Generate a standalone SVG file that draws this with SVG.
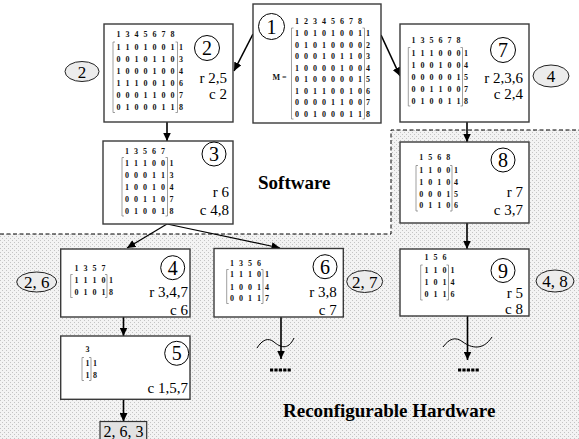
<svg xmlns="http://www.w3.org/2000/svg" width="579" height="439" viewBox="0 0 579 439">
<defs>
<pattern id="dots" width="4" height="4" patternUnits="userSpaceOnUse">
<rect width="4" height="4" fill="#f3f3f3"/>
<rect x="0" y="0" width="1" height="1" fill="#c4c4c4"/>
<rect x="2" y="2" width="1" height="1" fill="#c4c4c4"/>
</pattern>
<marker id="ah" markerUnits="userSpaceOnUse" markerWidth="9" markerHeight="8" refX="8.5" refY="4" orient="auto">
<path d="M0,0 L8.5,4 L0,8 z" fill="#000"/>
</marker>
</defs>
<style>
.box{fill:#fff;stroke:#3a3a3a;stroke-width:1.4}
.m{font-family:"Liberation Serif",serif;font-weight:bold;font-size:8px;letter-spacing:1.5px;fill:#111}
.lb{font-family:"Liberation Serif",serif;font-weight:bold;font-size:8px;fill:#111}
.br{fill:none;stroke:#777;stroke-width:0.7}
.cn{fill:none;stroke:#000;stroke-width:1}
.num{font-family:"Liberation Serif",serif;font-size:20px;text-anchor:middle;fill:#000}
.rc{font-family:"Liberation Serif",serif;font-size:15px;text-anchor:end;fill:#000}
.el{fill:#ececec;stroke:#222;stroke-width:1}
.et{font-family:"Liberation Serif",serif;font-size:17px;text-anchor:middle;fill:#000}
.big{font-family:"Liberation Serif",serif;font-weight:bold;font-size:19px;fill:#000}
.arr{fill:none;stroke:#000;stroke-width:1.6;marker-end:url(#ah)}
.dash{fill:none;stroke:#000;stroke-width:1;stroke-dasharray:4,2.5}
.dots{fill:none;stroke:#000;stroke-width:3;stroke-dasharray:3.2,1.2}
.wave{fill:none;stroke:#000;stroke-width:1}
</style>
<rect width="579" height="439" fill="#fff"/>
<path d="M0,234 H391 V130 H579 V439 H0 Z" fill="url(#dots)"/>
<path class="dash" d="M0,234 H391 V130 H579"/>

<text class="big" x="258" y="189">Software</text>
<text class="big" x="283" y="417">Reconfigurable Hardware</text>

<g id="connectors">
<line class="arr" x1="253" y1="34" x2="234" y2="71"/>
<line class="arr" x1="381" y1="35" x2="400" y2="76"/>
<line class="arr" x1="167" y1="122" x2="167" y2="141"/>
<line class="arr" x1="167" y1="224" x2="127" y2="248" style="stroke-width:1.2"/>
<line class="arr" x1="167" y1="224" x2="280" y2="248" style="stroke-width:1.2"/>
<line class="arr" x1="467" y1="122" x2="467" y2="142"/>
<line class="arr" x1="467" y1="223" x2="467" y2="249"/>
<line class="arr" x1="123.5" y1="317" x2="123.5" y2="336"/>
<line class="arr" x1="123.5" y1="399" x2="123.5" y2="421.5"/>
<line class="arr" x1="281" y1="317" x2="281" y2="359"/>
<path class="wave" d="M257,348 C262,340 268,337 274,342 S288,351 294,338"/>
<line class="dots" x1="270" y1="370" x2="291.5" y2="370"/>
<line class="arr" x1="467.5" y1="316" x2="467.5" y2="360"/>
<path class="wave" d="M443,347 C449,339 455,336 463,342 S483,351 492,337"/>
<line class="dots" x1="458" y1="370" x2="479.5" y2="370"/>
</g>

<g id="node1">
<rect class="box" x="253" y="4" width="128" height="119"/>
<circle class="cn" cx="271.5" cy="26.5" r="13"/>
<text class="num" x="271.5" y="33.5">1</text>
<text class="lb" x="272.5" y="80">M =</text>
<text class="m" x="295" y="23.5">1 2 3 4 5 6 7 8</text>
<path class="br" d="M293.5,28 H291.5 V119 H293.5 M362.5,28 H364.5 V119 H362.5"/>
<text class="m"><tspan x="295" y="36">1 0 1 0 1 0 0 1</tspan><tspan x="295" y="47.5">0 1 0 1 0 0 0 0</tspan><tspan x="295" y="59">0 0 0 1 0 1 1 0</tspan><tspan x="295" y="70.5">1 0 0 0 0 1 0 0</tspan><tspan x="295" y="82">0 1 0 0 0 0 0 1</tspan><tspan x="295" y="93.5">1 0 1 1 0 0 1 0</tspan><tspan x="295" y="105">0 0 0 0 1 1 0 0</tspan><tspan x="295" y="116.5">0 0 1 0 0 0 1 1</tspan></text>
<text class="lb"><tspan x="366" y="36">1</tspan><tspan x="366" y="47.5">2</tspan><tspan x="366" y="59">3</tspan><tspan x="366" y="70.5">4</tspan><tspan x="366" y="82">5</tspan><tspan x="366" y="93.5">6</tspan><tspan x="366" y="105">7</tspan><tspan x="366" y="116.5">8</tspan></text>
</g>

<g id="node2">
<rect class="box" x="104" y="24" width="129" height="98"/>
<circle class="cn" cx="207" cy="48" r="12.5"/>
<text class="num" x="207" y="55">2</text>
<text class="rc" x="227" y="83">r 2,5</text>
<text class="rc" x="227" y="99">c 2</text>
<text class="m" x="116.5" y="37">1 3 4 5 6 7 8</text>
<path class="br" d="M115,42 H113 V112.5 H115 M175.5,42 H177.5 V112.5 H175.5"/>
<text class="m"><tspan x="116.5" y="49.5">1 1 0 1 0 0 1</tspan><tspan x="116.5" y="61.6">0 0 1 0 1 1 0</tspan><tspan x="116.5" y="73.7">1 0 0 0 1 0 0</tspan><tspan x="116.5" y="85.8">1 1 1 0 0 1 0</tspan><tspan x="116.5" y="97.9">0 0 0 1 1 0 0</tspan><tspan x="116.5" y="110">0 1 0 0 0 1 1</tspan></text>
<text class="lb"><tspan x="179" y="49.5">1</tspan><tspan x="179" y="61.6">3</tspan><tspan x="179" y="73.7">4</tspan><tspan x="179" y="85.8">6</tspan><tspan x="179" y="97.9">7</tspan><tspan x="179" y="110">8</tspan></text>
</g>
<g id="tag2">
<ellipse class="el" cx="82" cy="71.5" rx="17" ry="10"/>
<text class="et" x="82" y="77.5">2</text>
</g>

<g id="node7">
<rect class="box" x="400" y="24" width="129" height="98"/>
<circle class="cn" cx="503" cy="50" r="12.5"/>
<text class="num" x="503" y="57">7</text>
<text class="rc" x="523" y="83">r 2,3,6</text>
<text class="rc" x="523" y="99">c 2,4</text>
<text class="m" x="411.5" y="43">1 3 5 6 7 8</text>
<path class="br" d="M410.3,47.5 H408.3 V106 H410.3 M460.5,47.5 H462.5 V106 H460.5"/>
<text class="m"><tspan x="411.5" y="55.5">1 1 1 0 0 0</tspan><tspan x="411.5" y="67.5">1 0 0 1 0 0</tspan><tspan x="411.5" y="79.5">0 0 0 0 0 1</tspan><tspan x="411.5" y="91.5">0 0 1 1 0 0</tspan><tspan x="411.5" y="103.5">0 1 0 0 1 1</tspan></text>
<text class="lb"><tspan x="464" y="55.5">1</tspan><tspan x="464" y="67.5">4</tspan><tspan x="464" y="79.5">5</tspan><tspan x="464" y="91.5">7</tspan><tspan x="464" y="103.5">8</tspan></text>
</g>
<g id="tag7">
<ellipse class="el" cx="551" cy="76" rx="18" ry="11"/>
<text class="et" x="551" y="82">4</text>
</g>

<g id="node3">
<rect class="box" x="103" y="141" width="130" height="83"/>
<circle class="cn" cx="214" cy="154" r="12"/>
<text class="num" x="214" y="161">3</text>
<text class="rc" x="229" y="197">r 6</text>
<text class="rc" x="229" y="215">c 4,8</text>
<text class="m" x="125" y="153.5">1 3 5 6 7</text>
<path class="br" d="M124,157.5 H122 V216 H124 M165.5,157.5 H167.5 V216 H165.5"/>
<text class="m"><tspan x="125" y="165.5">1 1 1 0 0</tspan><tspan x="125" y="177.5">0 0 0 1 1</tspan><tspan x="125" y="189.5">1 0 0 1 0</tspan><tspan x="125" y="201.5">0 0 1 1 0</tspan><tspan x="125" y="213.5">0 1 0 0 1</tspan></text>
<text class="lb"><tspan x="169.5" y="165.5">1</tspan><tspan x="169.5" y="177.5">3</tspan><tspan x="169.5" y="189.5">4</tspan><tspan x="169.5" y="201.5">7</tspan><tspan x="169.5" y="213.5">8</tspan></text>
</g>

<g id="node8">
<rect class="box" x="400" y="142" width="129" height="81"/>
<circle class="cn" cx="503" cy="160" r="12"/>
<text class="num" x="503" y="167">8</text>
<text class="rc" x="523" y="197">r 7</text>
<text class="rc" x="523" y="215">c 3,7</text>
<text class="m" x="419.3" y="159.5">1 5 6 8</text>
<path class="br" d="M418,165.5 H416 V211 H418 M450,165.5 H452 V211 H450"/>
<text class="m"><tspan x="419.3" y="173.3">1 1 0 0</tspan><tspan x="419.3" y="185">1 0 1 0</tspan><tspan x="419.3" y="196.7">0 0 0 1</tspan><tspan x="419.3" y="208.4">0 1 1 0</tspan></text>
<text class="lb"><tspan x="454" y="173.3">1</tspan><tspan x="454" y="185">4</tspan><tspan x="454" y="196.7">5</tspan><tspan x="454" y="208.4">6</tspan></text>
</g>

<g id="node9">
<rect class="box" x="400" y="249" width="129" height="67"/>
<circle class="cn" cx="503" cy="270.5" r="12"/>
<text class="num" x="503" y="277.5">9</text>
<text class="rc" x="523" y="297.5">r 5</text>
<text class="rc" x="523" y="314">c 8</text>
<text class="m" x="424.5" y="259.5">1 5 6</text>
<path class="br" d="M422.7,265 H420.7 V300 H422.7 M446.5,265 H448.5 V300 H446.5"/>
<text class="m"><tspan x="424.5" y="272.8">1 1 0</tspan><tspan x="424.5" y="285.1">1 0 1</tspan><tspan x="424.5" y="297.4">0 1 1</tspan></text>
<text class="lb"><tspan x="450.5" y="272.8">1</tspan><tspan x="450.5" y="285.1">4</tspan><tspan x="450.5" y="297.4">6</tspan></text>
</g>
<g id="tag9">
<ellipse class="el" cx="555" cy="281" rx="19" ry="11"/>
<text class="et" x="555" y="287">4, 8</text>
</g>

<g id="node4">
<rect class="box" x="60.7" y="249" width="129.3" height="68"/>
<circle class="cn" cx="172.7" cy="267.7" r="12"/>
<text class="num" x="172.7" y="274.7">4</text>
<text class="rc" x="188" y="297">r 3,4,7</text>
<text class="rc" x="188" y="315">c 6</text>
<text class="m" x="74.5" y="270.5">1 3 5 7</text>
<path class="br" d="M72.7,274.5 H70.7 V297.5 H72.7 M105,274.5 H107 V297.5 H105"/>
<text class="m"><tspan x="74.5" y="282.5">1 1 1 0</tspan><tspan x="74.5" y="295">0 1 0 1</tspan></text>
<text class="lb"><tspan x="109" y="282.5">1</tspan><tspan x="109" y="295">8</tspan></text>
</g>
<g id="tag4">
<ellipse class="el" cx="36.7" cy="282" rx="20" ry="10"/>
<text class="et" x="36.7" y="288">2, 6</text>
</g>

<g id="node6">
<rect class="box" x="214" y="248.5" width="129.3" height="68.5"/>
<circle class="cn" cx="325" cy="266.7" r="12"/>
<text class="num" x="325" y="273.7">6</text>
<text class="rc" x="336.7" y="297">r 3,8</text>
<text class="rc" x="336.7" y="314.5">c 7</text>
<text class="m" x="230" y="265.5">1 3 5 6</text>
<path class="br" d="M228.7,269.5 H226.7 V303.5 H228.7 M261,269.5 H263 V303.5 H261"/>
<text class="m"><tspan x="230" y="277">1 1 1 0</tspan><tspan x="230" y="289.5">1 0 0 1</tspan><tspan x="230" y="301">0 0 1 1</tspan></text>
<text class="lb"><tspan x="265" y="277">1</tspan><tspan x="265" y="289.5">4</tspan><tspan x="265" y="301">7</tspan></text>
</g>
<g id="tag6">
<ellipse class="el" cx="364.7" cy="281.5" rx="18" ry="11"/>
<text class="et" x="364.7" y="287.5">2, 7</text>
</g>

<g id="node5">
<rect class="box" x="60.7" y="336" width="129.3" height="63.3"/>
<circle class="cn" cx="176.7" cy="353.3" r="12"/>
<text class="num" x="176.7" y="360.3">5</text>
<text class="rc" x="188" y="393">c 1,5,7</text>
<text class="m" x="85.5" y="352">3</text>
<path class="br" d="M84,357.5 H82 V380.5 H84 M89,357.5 H91 V380.5 H89"/>
<text class="m"><tspan x="85.5" y="365.5">1</tspan><tspan x="85.5" y="378">1</tspan></text>
<text class="lb"><tspan x="93" y="365.5">1</tspan><tspan x="93" y="378">8</tspan></text>
</g>

<g id="result">
<rect x="100" y="421.5" width="46.7" height="20" fill="#e2e2e2" stroke="#333" stroke-width="1.2"/>
<text class="et" x="123.4" y="437" style="font-size:16px">2, 6, 3</text>
</g>
</svg>
